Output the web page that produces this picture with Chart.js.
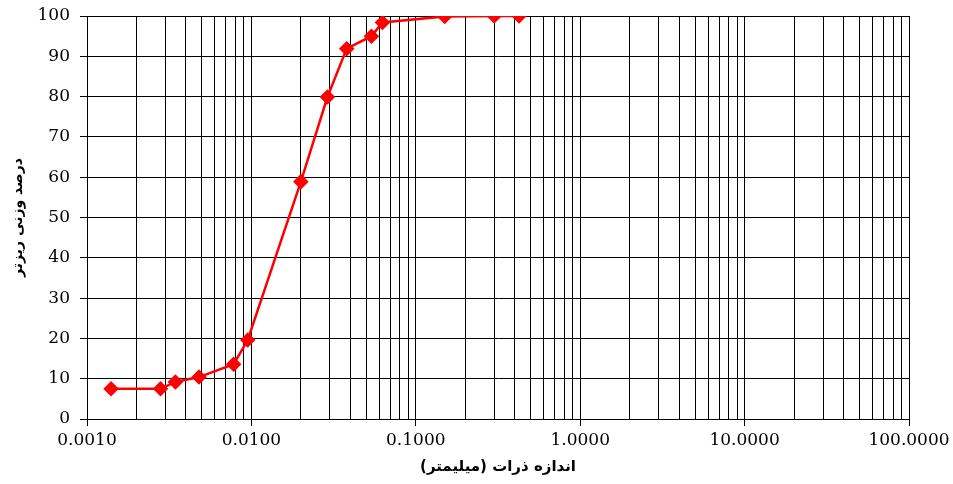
<!DOCTYPE html>
<html>
<head>
<meta charset="utf-8">
<script src="https://cdn.jsdelivr.net/npm/chart.js@4"></script>
<style>
  body { margin: 0; background: #fff; }
  #wrap { width: 953px; height: 484px; }
</style>
</head>
<body>
<div id="wrap"><canvas id="grading" width="953" height="484"></canvas></div>
<script>
// particle size (mm) and percent finer
var sizes = [0.0014, 0.0028, 0.00345, 0.0048, 0.0078, 0.0095, 0.020, 0.029, 0.038, 0.0537, 0.0627, 0.150, 0.300, 0.425];
var passing = [7.5, 7.5, 9.2, 10.4, 13.6, 19.6, 58.9, 79.9, 91.9, 95.0, 98.4, 99.9, 100, 100];

var xTitle = 'اندازه ذرات (میلیمتر)';
var yTitle = 'درصد وزنی ریزتر';
var xMin = 0.001, xMax = 100;

var points = sizes.map(function (s, i) { return { x: s, y: passing[i] }; });

function isDecade(v) {
    var l = Math.log10(v);
    return Math.abs(l - Math.round(l)) < 1e-9;
}

var ctx = document.getElementById('grading');

var myChart = new Chart(ctx, {
    type: 'line',
    data: {
        datasets: [
            {
                data: points,
                borderColor: '#ff0000',
                backgroundColor: '#ff0000',
                borderWidth: 2.5,
                pointStyle: 'rectRot',
                pointRadius: 6,
                pointHoverRadius: 6,
                tension: 0
            }
        ]
    },
    options: {
        responsive: false,
        animation: false,
        layout: { padding: { top: 16, right: 44, left: 0, bottom: 0 } },
        plugins: {
            legend: { display: false },
            tooltip: { enabled: false }
        },
        scales: {
            x: {
                type: 'logarithmic',
                min: xMin,
                max: xMax,
                afterBuildTicks: function (scale) {
                    var t = [];
                    for (var e = -3; e <= 1; e++) {
                        for (var m = 1; m <= 9; m++) {
                            t.push({ value: m * Math.pow(10, e) });
                        }
                    }
                    t.push({ value: 100 });
                    scale.ticks = t;
                },
                afterFit: function (scale) {
                    scale.height = 65;
                    scale.paddingLeft = 0;
                    scale.paddingRight = 0;
                },
                ticks: {
                    autoSkip: false,
                    maxRotation: 0,
                    padding: 4,
                    color: '#000',
                    font: { family: "'DejaVu Serif', serif", size: 17 },
                    callback: function (v) {
                        return isDecade(v) ? v.toFixed(4) : '';
                    }
                },
                grid: {
                    color: '#000',
                    lineWidth: 1,
                    tickLength: 7,
                    tickColor: function (c) {
                        return c.tick && isDecade(c.tick.value) ? '#000' : 'rgba(0,0,0,0)';
                    }
                },
                border: { color: '#000', width: 1 },
                title: {
                    display: true,
                    text: xTitle,
                    color: '#000',
                    padding: { top: 2, bottom: 8 },
                    font: { family: "'DejaVu Sans', sans-serif", size: 15, weight: 'bold' }
                }
            },
            y: {
                min: 0,
                max: 100,
                afterFit: function (scale) {
                    scale.width = 87;
                    scale.paddingTop = 0;
                    scale.paddingBottom = 0;
                },
                ticks: {
                    stepSize: 10,
                    padding: 10,
                    color: '#000',
                    font: { family: "'DejaVu Serif', serif", size: 17 }
                },
                grid: {
                    color: '#000',
                    lineWidth: 1,
                    tickLength: 7
                },
                border: { color: '#000', width: 1 },
                title: {
                    display: true,
                    text: yTitle,
                    color: '#000',
                    padding: { top: 10, bottom: 0 },
                    font: { family: "'DejaVu Sans', sans-serif", size: 14, weight: 'bold' }
                }
            }
        }
    }
});
</script>
</body>
</html>
